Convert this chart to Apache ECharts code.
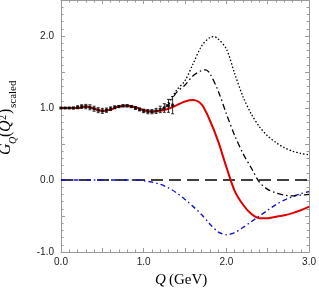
<!DOCTYPE html>
<html><head><meta charset="utf-8">
<script src="https://cdn.jsdelivr.net/npm/echarts@6/dist/echarts.min.js"></script>
<style>html,body{margin:0;padding:0;background:#fff}#c{width:319px;height:290px}</style>
</head><body><div id="c"></div>
<script>
// ---- data ----
const dataQ = [0.00,0.05,0.10,0.15,0.20,0.25,0.30,0.35,0.40,0.45,0.50,0.55,0.60,0.65,0.70,0.75,0.80,0.85,0.90,0.95,1.00,1.05,1.10,1.15,1.20,1.25,1.30,1.35];
const dataG = [1.00,1.00,1.00,1.00,1.01,1.02,1.02,1.01,0.99,0.97,0.96,0.97,0.99,1.01,1.02,1.03,1.03,1.02,1.00,0.98,0.96,0.95,0.95,0.96,0.98,1.00,1.03,1.04];
const dataErr = [0.002,0.005,0.008,0.012,0.02,0.025,0.03,0.035,0.035,0.035,0.035,0.03,0.025,0.02,0.015,0.015,0.015,0.015,0.02,0.02,0.025,0.03,0.03,0.035,0.045,0.06,0.09,0.12];

const redQ = [0.0,0.1,0.2,0.3,0.4,0.5,0.6,0.7,0.8,0.9,1.0,1.1,1.2,1.3,1.4,1.5,1.6,1.7,1.8,1.9,2.0,2.1,2.2,2.3,2.4,2.5,2.6,2.7,2.8,2.9,3.0];
const redG = [1.00,1.00,1.00,1.02,0.99,0.96,0.98,1.02,1.03,1.01,0.97,0.95,0.96,0.99,1.04,1.09,1.11,1.05,0.83,0.54,0.18,-0.15,-0.34,-0.47,-0.53,-0.53,-0.51,-0.49,-0.46,-0.42,-0.37];

const dotQ = [0.0,0.1,0.2,0.3,0.4,0.5,0.6,0.7,0.8,0.9,1.0,1.1,1.2,1.3,1.4,1.5,1.6,1.7,1.8,1.85,1.9,2.0,2.1,2.2,2.3,2.4,2.5,2.6,2.7,2.8,2.9,3.0];
const dotG = [1.00,1.00,1.00,1.02,0.99,0.96,0.98,1.02,1.03,1.01,0.97,0.95,0.97,1.08,1.25,1.38,1.62,1.86,1.98,1.99,1.96,1.82,1.48,1.16,0.92,0.74,0.61,0.52,0.45,0.40,0.37,0.35];

const ddQ = [0.0,0.1,0.2,0.3,0.4,0.5,0.6,0.7,0.8,0.9,1.0,1.1,1.2,1.3,1.4,1.5,1.6,1.7,1.75,1.8,1.9,2.0,2.1,2.2,2.3,2.4,2.5,2.6,2.7,2.8,2.9,3.0];
const ddG = [1.00,1.00,1.00,1.02,0.99,0.96,0.98,1.02,1.03,1.01,0.97,0.95,0.97,1.05,1.22,1.32,1.45,1.52,1.53,1.48,1.24,0.92,0.62,0.37,0.17,-0.03,-0.13,-0.18,-0.21,-0.22,-0.21,-0.20];

const blueQ = [0.0,0.3,0.6,0.9,1.0,1.1,1.2,1.3,1.4,1.5,1.6,1.7,1.8,1.9,2.0,2.1,2.2,2.3,2.4,2.5,2.6,2.7,2.8,2.9,3.0];
const blueG = [0.00,0.00,0.00,0.00,-0.01,-0.03,-0.06,-0.11,-0.18,-0.27,-0.37,-0.48,-0.61,-0.72,-0.76,-0.73,-0.66,-0.58,-0.50,-0.42,-0.34,-0.28,-0.23,-0.19,-0.16];

const zeroQ = [0.0,3.0];
const zeroG = [0.0,0.0];

const xTickLabels = ['0.0','1.0','2.0','3.0'];
const yTickLabels = ['-1.0','0.0','1.0','2.0'];

// ---- build ----
const pairs = (xs, ys) => xs.map((x, i) => [x, ys[i]]);
const chart = echarts.init(document.getElementById('c'), null, {renderer: 'canvas'});
const axisGray = '#9a9a9a';
const lblFont = {fontFamily: 'Liberation Sans, Arial, sans-serif', fontSize: 10, color: '#222'};
const fmtX = v => { const s = v.toFixed(1); return xTickLabels.includes(s) ? s : ''; };
const fmtY = v => { const s = v.toFixed(1); return yTickLabels.includes(s) ? s : ''; };

function mkX(pos, show) {
  return {
    type: 'value', position: pos, min: 0, max: 3, interval: 0.5,
    axisLine: {show: true, onZero: false, lineStyle: {color: axisGray, width: 1}},
    axisTick: {show: true, inside: true, length: 4, lineStyle: {color: axisGray}},
    minorTick: {show: true, splitNumber: 5, length: 2.5, lineStyle: {color: axisGray}},
    splitLine: {show: false},
    axisLabel: Object.assign({show: show, margin: 5, formatter: fmtX}, lblFont)
  };
}
function mkY(pos, show) {
  return {
    type: 'value', position: pos, min: -1, max: 2.5, interval: 0.5,
    axisLine: {show: true, onZero: false, lineStyle: {color: axisGray, width: 1}},
    axisTick: {show: true, inside: true, length: 4, lineStyle: {color: axisGray}},
    minorTick: {show: true, splitNumber: 5, length: 2.5, lineStyle: {color: axisGray}},
    splitLine: {show: false},
    axisLabel: Object.assign({show: show, margin: 7, formatter: fmtY}, lblFont)
  };
}

const lineBase = {type: 'line', showSymbol: false, symbol: 'none', smooth: 0.3, animation: false, z: 3};

const option = {
  animation: false,
  grid: {left: 61, right: 7, top: -1, bottom: 38, containLabel: false},
  xAxis: [mkX('bottom', true), mkX('top', false)],
  yAxis: [mkY('left', true), mkY('right', false)],
  series: [
    Object.assign({}, lineBase, {name: 'zero', data: pairs(zeroQ, zeroG), smooth: false,
      lineStyle: {color: '#000', width: 1.3, type: [12, 6]}}),
    Object.assign({}, lineBase, {name: 'blue', data: pairs(blueQ, blueG),
      lineStyle: {color: '#1414d2', width: 1.4, type: [5, 3, 1.5, 3]}}),
    Object.assign({}, lineBase, {name: 'dotted', data: pairs(dotQ, dotG),
      lineStyle: {color: '#000', width: 1.3, type: [1.5, 2]}}),
    Object.assign({}, lineBase, {name: 'dashdot', data: pairs(ddQ, ddG),
      lineStyle: {color: '#000', width: 1.3, type: [6, 3, 1.5, 3]}}),
    Object.assign({}, lineBase, {name: 'red', data: pairs(redQ, redG), z: 4,
      lineStyle: {color: '#e00000', width: 2}}),
    {
      type: 'custom', name: 'err', z: 5, animation: false,
      data: dataQ.map((q, i) => [q, dataG[i] - dataErr[i], dataG[i] + dataErr[i]]),
      renderItem: function (params, api) {
        const lo = api.coord([api.value(0), api.value(1)]);
        const hi = api.coord([api.value(0), api.value(2)]);
        const cw = 1.5;
        const st = {stroke: '#000', lineWidth: 0.8};
        return {type: 'group', children: [
          {type: 'line', shape: {x1: lo[0], y1: lo[1], x2: hi[0], y2: hi[1]}, style: st},
          {type: 'line', shape: {x1: lo[0] - cw, y1: lo[1], x2: lo[0] + cw, y2: lo[1]}, style: st},
          {type: 'line', shape: {x1: hi[0] - cw, y1: hi[1], x2: hi[0] + cw, y2: hi[1]}, style: st}
        ]};
      }
    },
    {type: 'scatter', name: 'data', data: pairs(dataQ, dataG), symbol: 'rect', symbolSize: 3,
      itemStyle: {color: '#000'}, z: 6, animation: false}
  ],
  graphic: [
    {
      type: 'group', x: 14, y: 155, rotation: Math.PI / 2, z: 10,
      children: [
        {type: 'text', x: 0, y: 0, style: {text: 'G', font: 'italic 16px "Liberation Serif", "Times New Roman", serif', fill: '#000', verticalAlign: 'bottom', align: 'left'}},
        {type: 'text', x: 11, y: 4, style: {text: 'Q', font: 'italic 10px "Liberation Serif", serif', fill: '#000', verticalAlign: 'bottom', align: 'left'}},
        {type: 'text', x: 18, y: 0, style: {text: '(', font: '16px "Liberation Serif", serif', fill: '#000', verticalAlign: 'bottom', align: 'left'}},
        {type: 'text', x: 23, y: 0, style: {text: 'Q', font: 'italic 16px "Liberation Serif", serif', fill: '#000', verticalAlign: 'bottom', align: 'left'}},
        {type: 'text', x: 35, y: -6, style: {text: '2', font: '10px "Liberation Serif", serif', fill: '#000', verticalAlign: 'bottom', align: 'left'}},
        {type: 'text', x: 41, y: 0, style: {text: ')', font: '16px "Liberation Serif", serif', fill: '#000', verticalAlign: 'bottom', align: 'left'}},
        {type: 'text', x: 47, y: 5, style: {text: 'scaled', font: '11px "Liberation Serif", serif', fill: '#000', verticalAlign: 'bottom', align: 'left'}}
      ]
    },
    {
      type: 'group', x: 155, y: 288, z: 10,
      children: [
        {type: 'text', x: 0, y: 0, style: {text: 'Q', font: 'italic 15px "Liberation Serif", serif', fill: '#000', verticalAlign: 'bottom', align: 'left'}},
        {type: 'text', x: 14, y: 0, style: {text: '(GeV)', font: '15px "Liberation Serif", serif', fill: '#000', verticalAlign: 'bottom', align: 'left'}}
      ]
    }
  ]
};
chart.setOption(option);
</script></body></html>
